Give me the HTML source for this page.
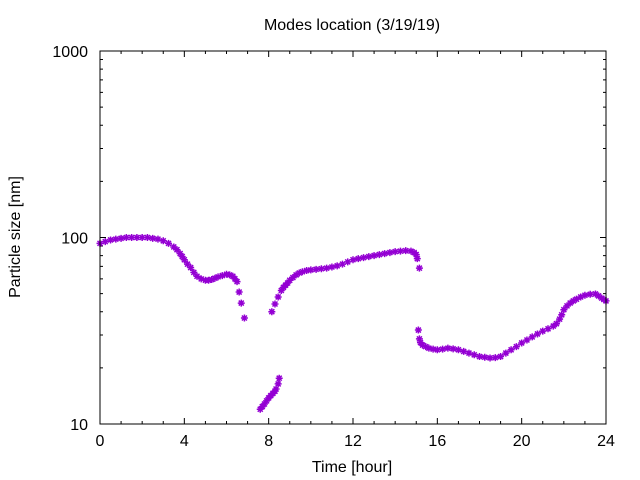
<!DOCTYPE html>
<html><head><meta charset="utf-8"><style>body{margin:0;background:#fff}svg{display:block;font-family:"Liberation Sans",sans-serif}</style></head>
<body>
<svg id="c" width="640" height="480">
<text x="352" y="30" text-anchor="middle" font-size="16">Modes location (3/19/19)</text>
<text x="352" y="472" text-anchor="middle" font-size="16">Time [hour]</text>
<text transform="translate(20,237) rotate(-90)" text-anchor="middle" font-size="16">Particle size [nm]</text>
<g id="ax"></g><g id="pts"></g>
<rect x="100" y="51" width="506" height="373" fill="none" stroke="#000" stroke-width="1"/>
</svg>
<script>
const xTicks=[0,4,8,12,16,20,24];
const yTicks=[10,100,1000];
const times=[0,0.25,0.5,0.75,1,1.25,1.5,1.75,2,2.25,2.5,2.75,3,3.25,3.5,3.65,3.8,3.9,4,4.15,4.3,4.45,4.6,4.8,5,5.15,5.3,5.45,5.6,5.8,6,6.15,6.3,6.4,6.5,6.6,6.7,6.85,
7.6,7.7,7.8,7.9,8.0,8.1,8.2,8.3,8.35,8.45,8.5,
8.15,8.3,8.45,8.6,8.7,8.8,8.9,9.0,9.15,9.3,9.45,9.6,9.8,10,10.25,10.5,10.75,11,11.25,11.5,11.75,12,12.25,12.5,12.75,13,13.25,13.5,13.75,14,14.25,14.5,14.75,14.9,15,15.05,15.15,
15.1,15.15,15.2,15.3,15.45,15.6,15.8,16,16.25,16.5,16.75,17,17.25,17.5,17.75,18,18.25,18.5,18.75,19,19.25,19.5,19.75,20,20.25,20.5,20.75,21,21.25,21.5,21.65,21.8,21.9,22,22.15,22.3,22.45,22.6,22.8,23,23.25,23.5,23.65,23.8,23.9,24];
const sizes=[93,95,97,98,99,100,100,100,100,100,99,98,96,93,89,86,82,79,76,72,69,65,62,60,59,59,59.5,60.5,61.5,62.5,63.5,63,62,60,58,51,44.5,37,
12.0,12.4,12.8,13.3,13.8,14.2,14.6,15.0,15.4,16.4,17.6,
40,44,48,52,54,55.5,57,59,61,63,64.5,65.5,66.5,67,67.5,68,68.5,69.5,70.5,72,74,76,77,78,79,80,81,82,83,84,84.5,85,84.5,83,81,77,68.5,
31.9,28.6,27.3,26.5,26,25.5,25.2,25,25.2,25.5,25.3,25,24.5,24,23.5,23,22.8,22.6,22.7,23,24,25,26,27.2,28.2,29.3,30.4,31.5,32.4,33.5,34.5,36.5,38.5,41,43,44.5,45.7,46.7,48,49,49.6,49.8,48.6,47.3,46.5,45.7];
const X=t=>100+t*(506/24), Y=v=>424-(Math.log10(v)-1)*186.5;
const NS='http://www.w3.org/2000/svg';
const ax=document.getElementById('ax'), pts=document.getElementById('pts');
function mk(tag,a,p){const e=document.createElementNS(NS,tag);for(const k in a)e.setAttribute(k,a[k]);p.appendChild(e);return e;}
let d='';
for(let t=0;t<=24;t++){const x=X(t),L=t%4==0?6:3;d+=`M${x},424v${-L}M${x},51v${L}`;}
for(let dec=10;dec<1000;dec*=10)for(let m=2;m<10;m++){const y=Y(dec*m);d+=`M100,${y}h3M606,${y}h-3`;}
yTicks.forEach(v=>{const y=Y(v);d+=`M100,${y}h6M606,${y}h-6`;});
const tk=mk('path',{d:d,stroke:'#000','stroke-width':1,fill:'none'},ax);


xTicks.forEach(t=>{const e=mk('text',{x:X(t),y:446,'text-anchor':'middle','font-size':16},ax);e.textContent=t;

});
yTicks.forEach(v=>{const e=mk('text',{x:88,y:Y(v)+6,'text-anchor':'end','font-size':16},ax);e.textContent=v;

});
times.forEach((t,i)=>{const x=X(t),y=Y(sizes[i]);
const p=mk('path',{d:`M${x-3.5},${y}h7M${x},${y-3.5}v7M${x-2.5},${y-2.5}l5,5M${x-2.5},${y+2.5}l5,-5`,stroke:'#9400d3','stroke-width':1.5,fill:'none'},pts);

});
</script>
</body></html>
